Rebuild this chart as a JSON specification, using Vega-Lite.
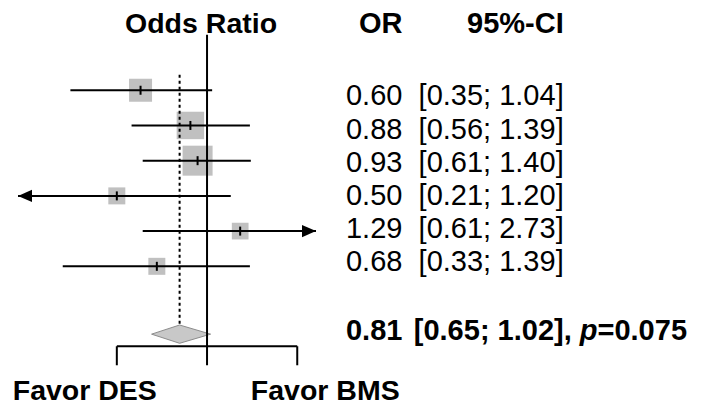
{
  "$schema": "https://vega.github.io/schema/vega-lite/v6.json",
  "width": 706,
  "height": 406,
  "autosize": {"type": "fit", "contains": "padding"},
  "padding": 0,
  "background": "white",
  "config": {"view": {"stroke": null}, "font": "Liberation Sans"},
  "datasets": {
    "studies": [
      {"row": 1, "or": 0.60, "lo": 0.35, "hi": 1.04, "weight": 17.4, "or_text": "0.60", "ci_text": "[0.35; 1.04]"},
      {"row": 2, "or": 0.88, "lo": 0.56, "hi": 1.39, "weight": 24.8, "or_text": "0.88", "ci_text": "[0.56; 1.39]"},
      {"row": 3, "or": 0.93, "lo": 0.61, "hi": 1.40, "weight": 29.6, "or_text": "0.93", "ci_text": "[0.61; 1.40]"},
      {"row": 4, "or": 0.50, "lo": 0.21, "hi": 1.20, "weight": 9.5, "or_text": "0.50", "ci_text": "[0.21; 1.20]"},
      {"row": 5, "or": 1.29, "lo": 0.61, "hi": 2.73, "weight": 9.2, "or_text": "1.29", "ci_text": "[0.61; 2.73]"},
      {"row": 6, "or": 0.68, "lo": 0.33, "hi": 1.39, "weight": 9.5, "or_text": "0.68", "ci_text": "[0.33; 1.39]"}
    ],
    "pooled": [
      {"or": 0.81, "lo": 0.65, "hi": 1.02, "p": 0.075, "or_text": "0.81", "ci_text": "[0.65; 1.02]", "p_text": "=0.075"}
    ],
    "headers": [
      {"col": "or_text", "label": "OR"},
      {"col": "ci_text", "label": "95%-CI"}
    ]
  },
  "resolve": {"scale": {"x": "independent", "y": "independent"}},
  "layer": [
    {
      "layer": [
        {
          "data": {"name": "studies"},
          "mark": {"type": "point", "shape": "square", "filled": true, "color": "#c0c0c0", "opacity": 1},
          "encoding": {
            "x": {"field": "or", "type": "quantitative", "axis": null, "scale": {"type": "log", "domain": [0.234, 2.31], "range": [18, 316], "clamp": true, "nice": false}},
            "y": {"field": "row", "type": "quantitative", "axis": null, "scale": {"domain": [-1.5626, 9.9096], "reverse": true, "nice": false, "zero": false}},
            "size": {"field": "weight", "type": "quantitative", "legend": null, "scale": {"domain": [0, 30], "range": [0, 912]}}
          }
        },
        {
          "data": {"name": "pooled"},
          "mark": {"type": "point", "shape": "M-0.95,0L0,-0.31L1.05,0L0,0.31Z", "size": 3481, "filled": true, "fill": "#c8c8c8", "stroke": "#8c8c8c", "strokeWidth": 1, "opacity": 1},
          "encoding": {
            "x": {"field": "or", "type": "quantitative"},
            "y": {"datum": 7.926, "type": "quantitative"}
          }
        },
        {
          "data": {"name": "studies"},
          "mark": {"type": "rule", "color": "black", "strokeWidth": 2},
          "encoding": {
            "x": {"field": "lo", "type": "quantitative"},
            "x2": {"field": "hi"},
            "y": {"field": "row", "type": "quantitative"}
          }
        },
        {
          "data": {"name": "studies"},
          "mark": {"type": "tick", "orient": "vertical", "color": "black", "size": 9, "thickness": 2, "opacity": 1},
          "encoding": {
            "x": {"field": "or", "type": "quantitative"},
            "y": {"field": "row", "type": "quantitative"}
          }
        },
        {
          "data": {"name": "studies"},
          "transform": [{"filter": "datum.lo < 0.234"}],
          "mark": {"type": "point", "shape": "M0,0L1,-0.43L1,0.43Z", "size": 784, "filled": true, "color": "black", "opacity": 1},
          "encoding": {
            "x": {"field": "lo", "type": "quantitative"},
            "y": {"field": "row", "type": "quantitative"}
          }
        },
        {
          "data": {"name": "studies"},
          "transform": [{"filter": "datum.hi > 2.31"}],
          "mark": {"type": "point", "shape": "M0,0L-1,-0.43L-1,0.43Z", "size": 784, "filled": true, "color": "black", "opacity": 1},
          "encoding": {
            "x": {"field": "hi", "type": "quantitative"},
            "y": {"field": "row", "type": "quantitative"}
          }
        },
        {
          "data": {"name": "pooled"},
          "mark": {"type": "rule", "color": "black", "strokeWidth": 2, "strokeDash": [3, 3]},
          "encoding": {
            "x": {"field": "or", "type": "quantitative"},
            "y": {"datum": 0.557, "type": "quantitative"},
            "y2": {"datum": 7.68}
          }
        },
        {
          "data": {"name": "pooled"},
          "mark": {"type": "rule", "color": "black", "strokeWidth": 2},
          "encoding": {
            "x": {"datum": 1, "type": "quantitative"},
            "y": {"datum": -0.574, "type": "quantitative"},
            "y2": {"datum": 8.81}
          }
        },
        {
          "data": {"name": "pooled"},
          "mark": {"type": "rule", "color": "black", "strokeWidth": 2},
          "encoding": {
            "x": {"datum": 0.5, "type": "quantitative"},
            "x2": {"datum": 2},
            "y": {"datum": 8.27, "type": "quantitative"}
          }
        },
        {
          "data": {"name": "pooled"},
          "mark": {"type": "rule", "color": "black", "strokeWidth": 2},
          "encoding": {
            "x": {"datum": 0.5, "type": "quantitative"},
            "y": {"datum": 8.27, "type": "quantitative"},
            "y2": {"datum": 8.81}
          }
        },
        {
          "data": {"name": "pooled"},
          "mark": {"type": "rule", "color": "black", "strokeWidth": 2},
          "encoding": {
            "x": {"datum": 2, "type": "quantitative"},
            "y": {"datum": 8.27, "type": "quantitative"},
            "y2": {"datum": 8.81}
          }
        },
        {
          "data": {"name": "pooled"},
          "mark": {"type": "text", "text": "Odds Ratio", "fontWeight": "bold", "fontSize": 28.5, "align": "center", "baseline": "alphabetic", "color": "black"},
          "encoding": {
            "x": {"datum": 0.955, "type": "quantitative"},
            "y": {"datum": -0.63, "type": "quantitative"}
          }
        },
        {
          "data": {"name": "pooled"},
          "mark": {"type": "text", "text": "Favor DES", "fontWeight": "bold", "fontSize": 28.5, "align": "center", "baseline": "alphabetic", "color": "black"},
          "encoding": {
            "x": {"datum": 0.391, "type": "quantitative"},
            "y": {"datum": 9.8, "type": "quantitative"}
          }
        },
        {
          "data": {"name": "pooled"},
          "mark": {"type": "text", "text": "Favor BMS", "fontWeight": "bold", "fontSize": 28.5, "align": "left", "baseline": "alphabetic", "color": "black"},
          "encoding": {
            "x": {"datum": 1.40, "type": "quantitative"},
            "y": {"datum": 9.8, "type": "quantitative"}
          }
        }
      ]
    },
    {
      "layer": [
        {
          "data": {"name": "headers"},
          "mark": {"type": "text", "fontWeight": "bold", "fontSize": 29, "align": "right", "baseline": "alphabetic", "color": "black"},
          "encoding": {
            "x": {"field": "col", "type": "nominal", "axis": null, "scale": {"type": "point", "domain": ["or_text", "ci_text"], "range": [402.4, 563.7], "padding": 0}},
            "y": {"datum": -1.19, "type": "quantitative", "axis": null, "scale": {"domain": [-2.18, 10.001], "reverse": true, "nice": false, "zero": false}},
            "text": {"field": "label"}
          }
        },
        {
          "data": {"name": "studies"},
          "transform": [{"fold": ["or_text", "ci_text"], "as": ["col", "label"]}],
          "mark": {"type": "text", "fontSize": 29, "align": "right", "baseline": "alphabetic", "color": "black"},
          "encoding": {
            "x": {"field": "col", "type": "nominal"},
            "y": {"field": "row", "type": "quantitative"},
            "text": {"field": "label"}
          }
        },
        {
          "data": {"name": "pooled"},
          "transform": [{"fold": ["or_text", "ci_text"], "as": ["col", "label"]}],
          "mark": {"type": "text", "fontWeight": "bold", "fontSize": 29, "align": "right", "baseline": "alphabetic", "color": "black"},
          "encoding": {
            "x": {"field": "col", "type": "nominal"},
            "y": {"datum": 8.08, "type": "quantitative"},
            "text": {"field": "label"}
          }
        },
        {
          "data": {"name": "pooled"},
          "mark": {"type": "text", "text": ",", "fontWeight": "bold", "fontSize": 29, "align": "left", "baseline": "alphabetic", "color": "black"},
          "encoding": {
            "x": {"datum": "ci_text", "type": "nominal"},
            "y": {"datum": 8.08, "type": "quantitative"}
          }
        },
        {
          "data": {"name": "pooled"},
          "mark": {"type": "text", "text": "p", "fontWeight": "bold", "fontStyle": "italic", "fontSize": 29, "align": "left", "baseline": "alphabetic", "color": "black", "dx": 16.1},
          "encoding": {
            "x": {"datum": "ci_text", "type": "nominal"},
            "y": {"datum": 8.08, "type": "quantitative"}
          }
        },
        {
          "data": {"name": "pooled"},
          "mark": {"type": "text", "fontWeight": "bold", "fontSize": 29, "align": "left", "baseline": "alphabetic", "color": "black", "dx": 33.8},
          "encoding": {
            "x": {"datum": "ci_text", "type": "nominal"},
            "y": {"datum": 8.08, "type": "quantitative"},
            "text": {"field": "p_text"}
          }
        }
      ]
    }
  ]
}
